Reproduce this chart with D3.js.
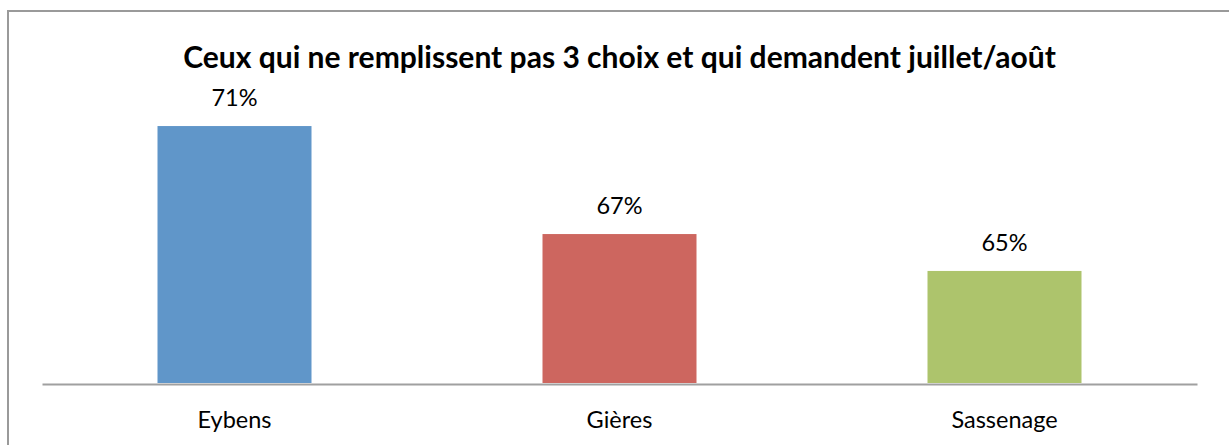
<!DOCTYPE html>
<html><head><meta charset="utf-8">
<script src="https://cdn.jsdelivr.net/npm/d3@7"></script>
<style>html,body{margin:0;padding:0;background:#fff;overflow:hidden}</style>
</head><body>
<svg id="c" width="1229" height="445"></svg>
<script>
const categories = ["Eybens", "Gières", "Sassenage"];
const values = [0.7142, 0.6662, 0.6498];
const valueLabels = ["71%", "67%", "65%"];
const colors = ["#6096C9", "#CD665F", "#ADC46C"];
const title = "Ceux qui ne remplissent pas 3 choix et qui demandent juillet/août";

const svg = d3.select("#c");
const font = "Lato, 'Open Sans', sans-serif";

// outer frame
svg.append("rect").attr("x", 8).attr("y", 11).attr("width", 1240).attr("height", 460)
  .attr("fill", "#fff").attr("stroke", "#9a9a9a").attr("stroke-width", 2);

const x = d3.scaleBand().domain(categories).range([42, 1197]).paddingInner(0.6).paddingOuter(0.3);
const y = d3.scaleLinear().domain([0.6, 0.75]).range([383, 45.5]);

// title
const t = svg.append("text").attr("x", 619.5).attr("y", 68).attr("text-anchor", "middle")
  .attr("font-family", font).attr("font-weight", "bold").attr("font-size", 27)
  .attr("fill", "#000").text(title);
const w = t.node().getComputedTextLength();
t.attr("font-size", 27 * 873 / w);

// bars
svg.selectAll("rect.bar").data(values).join("rect").attr("class", "bar")
  .attr("x", (d, i) => x(categories[i])).attr("width", x.bandwidth())
  .attr("y", d => y(d)).attr("height", d => y.range()[0] - y(d))
  .attr("fill", (d, i) => colors[i]);

// value labels
svg.selectAll("text.val").data(values).join("text").attr("class", "val")
  .attr("x", (d, i) => x(categories[i]) + x.bandwidth() / 2).attr("y", d => y(d) - 20)
  .attr("text-anchor", "middle").attr("font-family", font).attr("font-size", 23.5)
  .attr("fill", "#000").text((d, i) => valueLabels[i]);

// axis
const ax = svg.append("g").attr("transform", "translate(0,384)")
  .call(d3.axisBottom(x).tickSize(0).tickPadding(27));
ax.select(".domain").attr("stroke", "#a0a0a0").attr("stroke-width", 2);
ax.selectAll("text").attr("font-family", font).attr("font-size", 23.5).attr("fill", "#000")
  .attr("dy", "0.71em");
</script>
</body></html>
